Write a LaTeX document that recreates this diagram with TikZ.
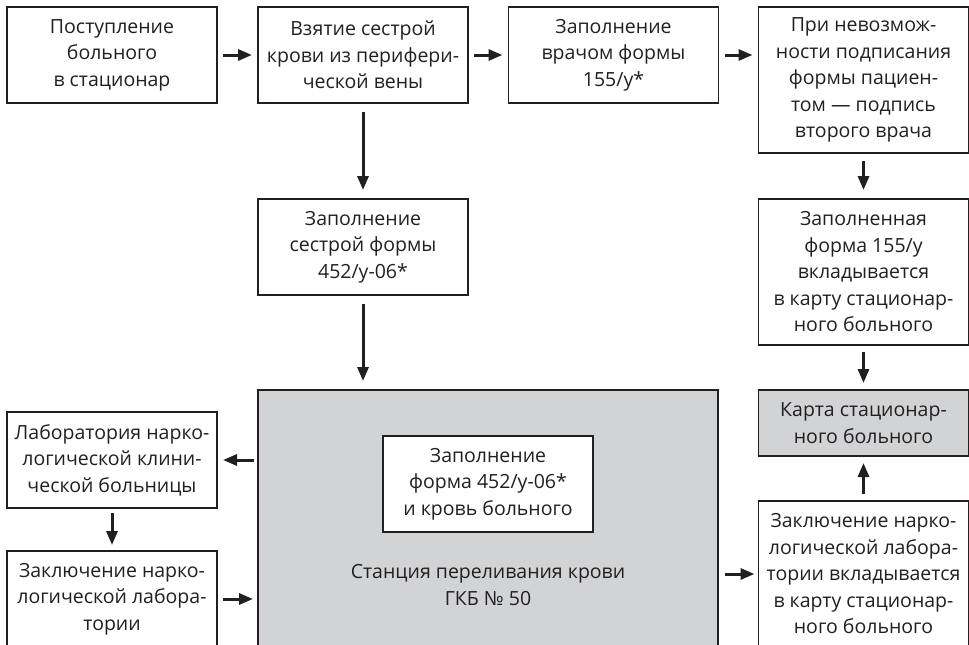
\documentclass[tikz,border=0pt]{standalone}
\usepackage{fontspec}
\setmainfont{Open Sans}
\usetikzlibrary{arrows.meta}
\definecolor{ink}{HTML}{231F20}
\definecolor{graybox}{HTML}{D1D3D4}
\begin{document}
\begin{tikzpicture}[x=1pt,y=-1pt,
  box/.style={draw=ink, line width=1.8pt, fill=white, text=ink, align=center,
    inner sep=0pt, outer sep=0pt, minimum width=210pt,
    font=\fontsize{19.5}{26.5}\selectfont},
  graybg/.style={fill=graybox},
  arr/.style={draw=ink, line width=3pt, -{Triangle[length=14pt,width=11pt]},
    shorten <=6pt, shorten >=6pt},
  longarr/.style={arr, shorten <=9pt, shorten >=9pt},
  plain/.style={text=ink, align=center, inner sep=0pt,
    font=\fontsize{19.5}{26.5}\selectfont}]
\useasboundingbox (0,0) rectangle (969,645);
% row 1
\node[box, minimum height=96pt] (A) at (112,55) {Поступление\\больного\\в стационар};
\node[box, minimum height=96pt] (B) at (363,55) {Взятие сестрой\\крови из перифери-\\ческой вены};
\node[box, minimum height=96pt] (C) at (613.5,55) {Заполнение\\врачом формы\\155/у*};
\node[box, minimum height=146pt] (D) at (863.5,80) {При невозмож-\\ности подписания\\формы пациен-\\том — подпись\\второго врача};
% row 2
\node[box, minimum height=96pt] (E) at (363,247) {Заполнение\\сестрой формы\\452/у-06*};
\node[box, minimum height=146pt] (F) at (863.5,272) {Заполненная\\форма 155/у\\вкладывается\\в карту стационар-\\ного больного};
% lower part
\node[box, graybg, minimum width=460pt, minimum height=257pt] (big) at (488,518.5) {};
\node[box, minimum height=96pt] (inner) at (488,484) {Заполнение\\форма 452/у-06*\\и кровь больного};
\node[plain] (station) at (488,585) {Станция переливания крови\\ГКБ № 50};
\node[box, graybg, minimum height=66pt] (G) at (863.5,423) {Карта стационар-\\ного больного};
\node[box, minimum height=146pt] (H) at (863.5,574) {Заключение нарко-\\логической лабора-\\тории вкладывается\\в карту стационар-\\ного больного};
\node[box, minimum height=96pt] (lab) at (112,460) {Лаборатория нарко-\\логической клини-\\ческой больницы};
\node[box, minimum height=96pt] (zl) at (112,599) {Заключение нарко-\\логической лабора-\\тории};
% connectors
\draw[arr] (A) -- (B);
\draw[arr] (B) -- (C);
\draw[arr] (C) -- (D.west |- C);
\draw[longarr] (B) -- (E);
\draw[longarr] (E) -- (E |- big.north);
\draw[longarr, shorten <=8pt] (D) -- (F);
\draw[arr, shorten <=7pt, shorten >=7pt] (F) -- (G);
\draw[arr, shorten <=7pt, shorten >=7pt] (H) -- (G);
\draw[arr, shorten <=5pt] (lab) -- (zl);
\draw[arr, shorten <=4pt] (big.west |- lab) -- (lab);
\draw[arr, shorten >=5pt] (zl) -- (zl -| big.west);
\draw[arr, shorten <=7pt, shorten >=4pt] (big.east |- H) -- (H);
\end{tikzpicture}
\end{document}
